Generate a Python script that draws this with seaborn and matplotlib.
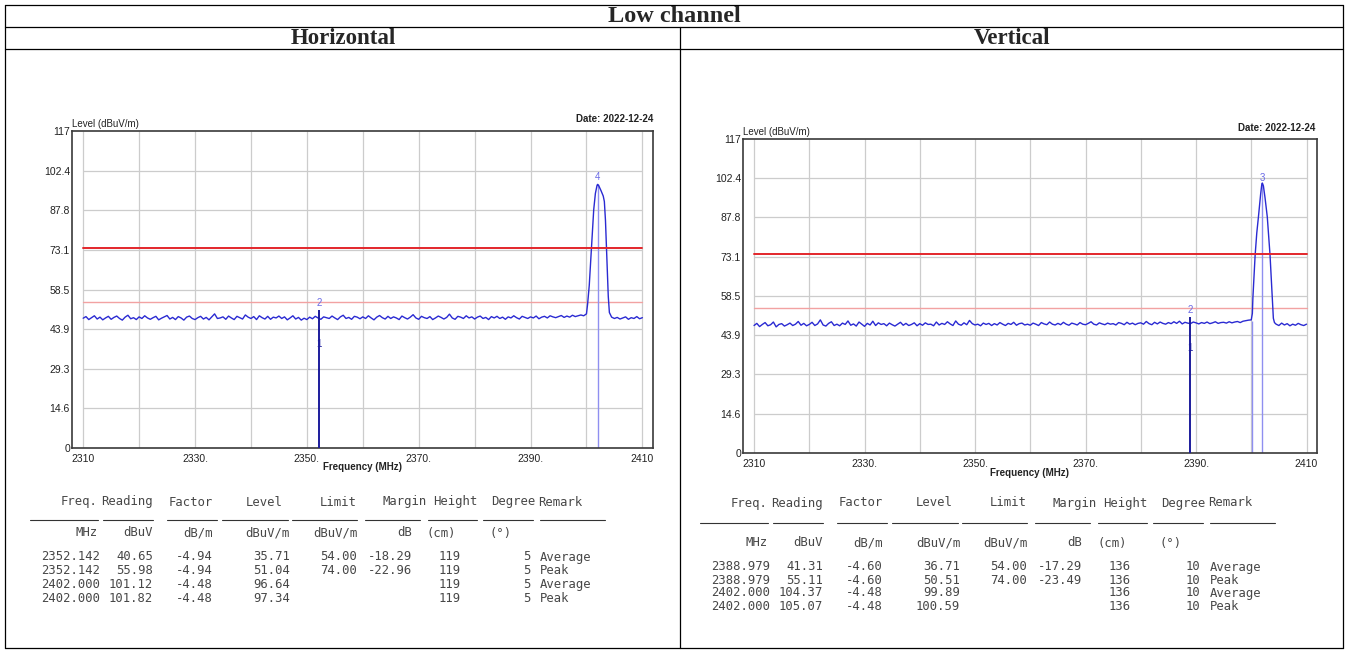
import numpy as np
import pandas as pd
import matplotlib
matplotlib.use("Agg")
import matplotlib.pyplot as plt
from matplotlib.lines import Line2D
import seaborn as sns

# ---------------- data ----------------
sheet_title = "Low channel"
panel_titles = ["Horizontal", "Vertical"]
date_text = "Date: 2022-12-24"
y_axis_title = "Level (dBuV/m)"
x_axis_title = "Frequency (MHz)"

y_ticks = [0, 14.6, 29.3, 43.9, 58.5, 73.1, 87.8, 102.4, 117]
y_tick_labels = ["0", "14.6", "29.3", "43.9", "58.5", "73.1", "87.8", "102.4", "117"]
x_ticks = [2310, 2330, 2350, 2370, 2390, 2410]
x_tick_labels = ["2310", "2330.", "2350.", "2370.", "2390.", "2410"]
x_grid = [2310, 2320, 2330, 2340, 2350, 2360, 2370, 2380, 2390, 2400, 2410]

limit_peak = 74.0
limit_avg = 54.0

# measured trace, horizontal polarisation (0.5 MHz steps 2310 .. 2399.5)
h_floor = [
    47.9, 48.5, 47.4, 48.1, 48.8, 47.6, 48.3, 47.3, 48.0, 48.6,
    47.5, 48.2, 48.7, 47.8, 47.2, 48.3, 49.0, 47.7, 48.1, 47.4,
    48.4, 47.8, 48.8, 48.0, 47.5, 48.1, 48.6, 47.3, 47.9, 48.4,
    48.9, 47.6, 48.2, 47.4, 48.5, 48.0, 47.2, 48.3, 48.7, 47.8,
    47.4, 48.1, 48.6, 47.6, 48.2, 47.3, 48.4, 49.5, 47.8, 48.0,
    48.4, 47.5, 48.7, 48.0, 47.4, 48.6, 48.1, 47.6, 49.1, 48.3,
    47.8, 48.5, 47.4, 48.8, 48.1, 47.6, 48.6, 47.5, 48.3, 48.0,
    48.7, 47.8, 48.4, 47.3, 48.0, 48.8, 47.6, 48.2, 47.2, 47.9,
    47.4, 48.3, 47.7, 48.6, 48.0, 47.5, 48.4, 48.1, 47.8, 48.7,
    48.0, 47.4, 48.4, 49.0, 47.8, 48.2, 47.5, 48.6, 48.3, 47.7,
    48.4, 47.8, 48.8, 48.0, 47.3, 48.3, 48.9, 48.1, 47.6, 48.6,
    47.8, 48.4, 48.0, 47.4, 48.7, 48.1, 47.6, 48.3, 49.2, 48.0,
    47.5, 48.6, 48.1, 47.8, 48.5, 47.4, 48.0, 48.7, 48.2, 47.6,
    48.2, 49.4, 48.0, 47.5, 48.6, 48.3, 47.8, 48.8, 48.0, 48.4,
    47.6, 48.3, 48.7, 47.8, 48.2, 47.4, 48.5, 48.0, 48.6, 47.8,
    48.3, 47.5, 48.4, 48.0, 48.8, 48.1, 47.6, 48.6, 48.2, 47.8,
    48.4, 48.0, 48.7, 47.7, 48.3, 48.6, 48.0, 48.8, 48.4, 48.1,
    48.5, 48.9, 48.2, 48.7, 48.3, 49.0, 48.5, 48.8, 49.1, 48.8,
]
h_peak_freq = [2400.0, 2400.2, 2400.5, 2400.9, 2401.3, 2401.6, 2401.9, 2402.0,
               2402.2, 2402.6, 2403.0, 2403.2, 2403.4, 2403.6, 2403.9, 2404.1]
h_peak_level = [49.5, 53.0, 60.0, 74.0, 88.0, 94.0, 97.0, 97.3,
                96.8, 95.0, 93.0, 91.0, 84.0, 73.0, 56.0, 50.0]
# 0.5 MHz steps 2404.5 .. 2410
h_tail = [48.3, 47.8, 48.2, 47.6, 48.0, 48.4, 47.5, 48.1, 47.8, 48.5, 47.7, 48.1]

# measured trace, vertical polarisation
v_floor = [
    47.5, 48.3, 47.1, 47.9, 48.6, 47.4, 47.8, 48.8, 47.0, 47.9,
    48.2, 47.3, 47.8, 48.4, 47.5, 48.0, 49.0, 47.6, 48.3, 47.4,
    47.9, 48.7, 47.5, 48.1, 49.6, 47.7, 47.3, 48.3, 48.9, 47.5,
    48.0, 47.4, 48.4, 47.9, 49.2, 47.6, 48.1, 47.3, 48.8, 48.0,
    47.2, 48.3, 47.7, 49.1, 47.5, 48.5, 47.9, 48.2, 47.4, 48.4,
    47.8, 47.3, 48.0, 48.7, 47.6, 48.3, 47.5, 47.9, 48.5, 47.4,
    48.2, 47.6, 48.5, 47.9, 48.0, 47.4, 48.8, 47.7, 48.3, 47.9,
    48.9, 48.1, 47.5, 49.2, 48.0, 47.6, 48.5, 47.8, 49.4, 48.2,
    47.7, 48.0, 47.4, 48.4, 47.9, 48.3, 47.5, 48.2, 47.7, 48.6,
    48.0, 47.5, 48.3, 47.9, 48.7, 47.6, 48.2, 48.4, 47.7, 48.0,
    47.6, 48.4, 48.0, 47.5, 48.6, 48.1, 47.8, 48.8, 48.0, 47.7,
    48.3, 47.8, 48.7, 48.0, 47.6, 48.4, 48.1, 47.7, 48.6, 48.0,
    47.8, 48.3, 48.9, 48.0, 47.7, 48.5, 48.1, 47.8, 48.4, 48.0,
    48.2, 47.7, 48.6, 48.3, 47.8, 48.7, 48.0, 48.4, 47.8, 48.3,
    48.5, 48.0, 49.0, 48.2, 47.8, 48.7, 48.1, 48.8, 48.3, 48.0,
    48.6, 48.2, 48.9, 48.3, 49.1, 48.1, 48.7, 48.4, 48.2, 48.8,
    48.5, 48.1, 48.6, 48.3, 48.8, 48.2, 48.5, 48.9, 48.3, 48.6,
    48.7, 48.4, 48.9, 48.5, 48.8, 49.0, 48.6, 49.1, 49.3, 49.5,
]
v_peak_freq = [2400.0, 2400.2, 2400.3, 2400.7, 2401.0, 2401.3, 2401.7, 2401.9,
               2402.0, 2402.2, 2402.5, 2402.9, 2403.4, 2403.8, 2404.0, 2404.2]
v_peak_level = [49.6, 52.0, 58.0, 73.7, 82.0, 88.0, 96.5, 100.0,
                100.6, 99.5, 95.0, 88.0, 73.7, 58.0, 50.2, 48.6]
v_tail = [48.0, 47.5, 48.4, 47.7, 48.2, 47.4, 48.0, 47.6, 48.3, 47.8, 47.5, 48.0]
v_edge_freq = 2400.2

floor_freq = np.arange(2310.0, 2400.0, 0.5)
tail_freq = np.arange(2404.5, 2410.01, 0.5)

# marker table, horizontal
h_freq = [2352.142, 2352.142, 2402.000, 2402.000]
h_reading = [40.65, 55.98, 101.12, 101.82]
h_factor = [-4.94, -4.94, -4.48, -4.48]
h_level = [35.71, 51.04, 96.64, 97.34]
h_limit = [54.00, 74.00, None, None]
h_margin = [-18.29, -22.96, None, None]
h_height = [119, 119, 119, 119]
h_degree = [5, 5, 5, 5]
h_remark = ["Average", "Peak", "Average", "Peak"]
h_marker_ids = ["1", "2", "3", "4"]
h_shown_ids = ["1", "2", "4"]

# marker table, vertical
v_freq = [2388.979, 2388.979, 2402.000, 2402.000]
v_reading = [41.31, 55.11, 104.37, 105.07]
v_factor = [-4.60, -4.60, -4.48, -4.48]
v_level = [36.71, 50.51, 99.89, 100.59]
v_limit = [54.00, 74.00, None, None]
v_margin = [-17.29, -23.49, None, None]
v_height = [136, 136, 136, 136]
v_degree = [10, 10, 10, 10]
v_remark = ["Average", "Peak", "Average", "Peak"]
v_marker_ids = ["1", "2", "3", "4"]
v_shown_ids = ["1", "2", "3"]

table_headers = ["Freq.", "Reading", "Factor", "Level", "Limit", "Margin", "Height", "Degree", "Remark"]
table_units = ["MHz", "dBuV", "dB/m", "dBuV/m", "dBuV/m", "dB", "(cm)", "(\u00b0)"]

# ---------------- figure ----------------
sns.set_theme(style="white")
plt.rcParams["font.family"] = ["Liberation Sans", "DejaVu Sans"]

W, H = 1348, 653
fig = plt.figure(figsize=(W / 100, H / 100), dpi=100)
fig.patch.set_facecolor("white")


def fx(x):
    return x / W


def fy(y):
    return 1 - y / H


def fig_line(xs, ys, **kw):
    fig.add_artist(Line2D([fx(v) for v in xs], [fy(v) for v in ys],
                          transform=fig.transFigure, **kw))


# report frame
frame_kw = dict(color="black", lw=0.9)
for yy in (5, 27, 49, 648):
    fig_line([5, 1343], [yy, yy], **frame_kw)
fig_line([5, 5], [5, 648], **frame_kw)
fig_line([1343, 1343], [5, 648], **frame_kw)
fig_line([680, 680], [27, 648], **frame_kw)

serif = ["Liberation Serif", "DejaVu Serif"]
fig.text(fx(674), fy(16.5), sheet_title, ha="center", va="center",
         fontsize=17.5, fontweight="bold", family=serif)
fig.text(fx(343), fy(38.5), panel_titles[0], ha="center", va="center",
         fontsize=16.5, fontweight="bold", family=serif)
fig.text(fx(1012), fy(38.5), panel_titles[1], ha="center", va="center",
         fontsize=16.5, fontweight="bold", family=serif)

TRACE = "#2a2ad2"
MARK_DARK = "#1c1c9c"
MARK_LIGHT = "#8f8ff0"
GRID = "#cccccc"
TEXT = "#222222"
MONO = ["DejaVu Sans Mono"]
TABLE_TEXT = "#474747"


def fmt(v, spec):
    return "" if v is None else format(v, spec)


def draw_panel(box, floor, pk_f, pk_l, tail, marks, shown, edge,
               date_xy, ylab_xy, xlab_y, tbl):
    left, top, right, bottom = box
    ax = fig.add_axes([fx(left), fy(bottom), (right - left) / W, (bottom - top) / H])
    ax.set_facecolor("white")

    # grid limited to the 2310-2410 span horizontally
    ax.vlines(x_grid, 0, 117, color=GRID, lw=0.9, zorder=1)
    ax.hlines(y_ticks[1:-1], x_grid[0], x_grid[-1], color=GRID, lw=0.9, zorder=1)

    limits = pd.DataFrame({"freq": [2310, 2410, 2310, 2410],
                           "level": [limit_avg, limit_avg, limit_peak, limit_peak],
                           "kind": ["avg", "avg", "peak", "peak"]})
    sns.lineplot(data=limits[limits.kind == "avg"], x="freq", y="level", ax=ax,
                 color="#f2a2a2", lw=1.0, estimator=None, zorder=2)
    sns.lineplot(data=limits[limits.kind == "peak"], x="freq", y="level", ax=ax,
                 color="#e3262b", lw=1.4, estimator=None, zorder=4)

    trace = pd.DataFrame({
        "freq": np.concatenate([floor_freq, pk_f, tail_freq]),
        "level": np.concatenate([floor, pk_l, tail]),
    })
    sns.lineplot(data=trace, x="freq", y="level", ax=ax, color=TRACE, lw=1.0,
                 estimator=None, sort=False, zorder=3)

    mk_freq, mk_level, mk_ids = marks
    # marker stems: band-edge marker dark, carrier marker light
    ax.vlines(mk_freq[0], 0, max(mk_level[0], mk_level[1]), color=MARK_DARK, lw=1.4, zorder=5)
    ax.vlines(mk_freq[3], 0, max(mk_level[2], mk_level[3]), color=MARK_LIGHT, lw=1.0, zorder=2.5)
    if edge is not None:
        ax.vlines(edge, 0, 49.0, color=MARK_LIGHT, lw=1.0, zorder=2.5)
    for f, lv, mid in zip(mk_freq, mk_level, mk_ids):
        if mid not in shown:
            continue
        col = MARK_DARK if mid == "1" else "#6b6be6"
        ax.text(f, lv + 2.6, mid, ha="center", va="center", fontsize=7, color=col, zorder=6)

    ax.set_xlim(2308.0, 2411.9)
    ax.set_ylim(0, 117)
    ax.set_xticks(x_ticks)
    ax.set_xticklabels(x_tick_labels)
    ax.set_yticks(y_ticks)
    ax.set_yticklabels(y_tick_labels)
    ax.tick_params(axis="both", length=0, labelsize=7.5, labelcolor=TEXT)
    ax.tick_params(axis="x", pad=4)
    ax.tick_params(axis="y", pad=1.5)
    ax.set_xlabel("")
    ax.set_ylabel("")
    ax.grid(False)
    for sp in ax.spines.values():
        sp.set_visible(True)
        sp.set_color("#3a3a3a")
        sp.set_linewidth(1.2)

    fig.text(fx(date_xy[0]), fy(date_xy[1]), date_text, ha="right", va="center",
             fontsize=7, fontweight="bold", color=TEXT)
    fig.text(fx(ylab_xy[0]), fy(ylab_xy[1]), y_axis_title, ha="left", va="center",
             fontsize=7, color=TEXT)
    fig.text(fx((left + right) / 2), fy(xlab_y), x_axis_title, ha="center", va="center",
             fontsize=7, fontweight="bold", color=TEXT)

    # marker table
    dx = tbl["dx"]
    rows = tbl["rows"]
    header_pos = [(97, "right"), (153, "right"), (213, "right"), (283, "right"),
                  (357, "right"), (427, "right"), (477, "right"), (535, "right"), (538, "left")]
    unit_pos = [(98, "right"), (153, "right"), (213, "right"), (290, "right"),
                (357, "right"), (412, "right"), (427, "left"), (490, "left")]
    rules = [(30, 98), (103, 153), (167, 217), (222, 288), (292, 357),
             (365, 420), (428, 477), (483, 533), (540, 605)]
    col_right = [100, 153, 213, 290, 357, 412, 461, 530]
    remark_left = 540
    tk = dict(va="center", fontsize=8.8, family=MONO, color=TABLE_TEXT)

    for txt, (x, ha) in zip(table_headers, header_pos):
        fig.text(fx(x + dx), fy(tbl["y_head"]), txt, ha=ha, **tk)
    for x0, x1 in rules:
        fig_line([x0 + dx, x1 + dx], [tbl["y_rule"], tbl["y_rule"]], color="#333333", lw=0.8)
    for txt, (x, ha) in zip(table_units, unit_pos):
        fig.text(fx(x + dx), fy(tbl["y_unit"]), txt, ha=ha, **tk)

    freq, reading, factor, level, limit, margin, height, degree, remark = rows
    for i in range(len(freq)):
        y = tbl["y_row0"] + i * tbl["row_dy"]
        cells = [fmt(freq[i], ".3f"), fmt(reading[i], ".2f"), fmt(factor[i], ".2f"),
                 fmt(level[i], ".2f"), fmt(limit[i], ".2f"), fmt(margin[i], ".2f"),
                 str(height[i]), str(degree[i])]
        for txt, x in zip(cells, col_right):
            if txt:
                fig.text(fx(x + dx), fy(y), txt, ha="right", **tk)
        fig.text(fx(remark_left + dx), fy(y), remark[i], ha="left", **tk)
    return ax


draw_panel(
    box=(72, 131, 653, 448),
    floor=h_floor, pk_f=h_peak_freq, pk_l=h_peak_level, tail=h_tail,
    marks=(h_freq, h_level, h_marker_ids), shown=h_shown_ids, edge=None,
    date_xy=(653, 119), ylab_xy=(72, 124), xlab_y=467,
    tbl=dict(dx=0, y_head=502, y_rule=520, y_unit=533, y_row0=557, row_dy=13.7,
             rows=(h_freq, h_reading, h_factor, h_level, h_limit, h_margin,
                   h_height, h_degree, h_remark)),
)

draw_panel(
    box=(743, 139, 1317, 453),
    floor=v_floor, pk_f=v_peak_freq, pk_l=v_peak_level, tail=v_tail,
    marks=(v_freq, v_level, v_marker_ids), shown=v_shown_ids, edge=v_edge_freq,
    date_xy=(1315, 128), ylab_xy=(743, 132), xlab_y=473,
    tbl=dict(dx=670, y_head=503, y_rule=523, y_unit=543, y_row0=567, row_dy=13,
             rows=(v_freq, v_reading, v_factor, v_level, v_limit, v_margin,
                   v_height, v_degree, v_remark)),
)

fig.savefig("out.png", dpi=100, facecolor="white")
